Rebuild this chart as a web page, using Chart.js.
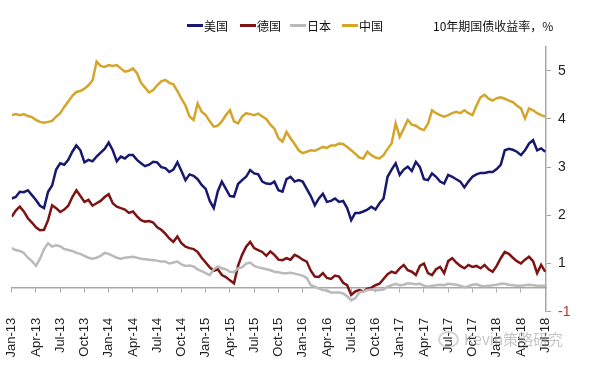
<!DOCTYPE html>
<html>
<head>
<meta charset="utf-8">
<script src="https://cdn.jsdelivr.net/npm/chart.js@4.4.1/dist/chart.umd.min.js"></script>
<style>
  html, body { margin: 0; padding: 0; background: #fff; }
  #wrap { position: relative; width: 600px; height: 381px; background: #fff; overflow: hidden; }
  #c { position: absolute; left: 0; top: 0; }
  .lg { position: absolute; top: 17px; font: 12px "Noto Sans CJK SC", sans-serif; color: #111; line-height: 17px; white-space: nowrap; }
  .lg i { position: absolute; top: 7px; width: 16px; height: 3px; }
  .wm { position: absolute; left: 464px; top: 328px; font: 15px "Noto Sans CJK SC", sans-serif; color: rgba(150,150,150,0.55); white-space: nowrap; }
  .wmi { position: absolute; left: 438px; top: 331px; width: 17px; height: 13px; border: 2px solid rgba(160,160,160,0.45); border-radius: 50%; }
</style>
</head>
<body>
<div id="wrap">
  <canvas id="c" width="600" height="381"></canvas>
  <div id="legend"></div>
  <div class="wmi"></div>
  <div class="wm">Kevin策略研究</div>
</div>
<script>
// ---- data (semi-monthly readings, Jan 2013 .. Jul 2018) ----
const seriesNames = ['美国', '德国', '日本', '中国'];
const chartTitle = '10年期国债收益率，%';

const usYield = [
  1.85,1.88, 1.99,1.98, 2.02,1.92, 1.82,1.70, 1.65,1.99, 2.12,2.45, 2.58,2.55, 2.65,2.82, 2.95,2.85, 2.60,2.65, 2.62,2.72, 2.80,2.88,
  3.01,2.85, 2.62,2.72, 2.68,2.75, 2.75,2.65, 2.58,2.52, 2.55,2.61, 2.60,2.50, 2.48,2.40, 2.45,2.60, 2.42,2.23, 2.35,2.32, 2.25,2.13,
  2.05,1.80, 1.65,2.00, 2.20,2.05, 1.90,1.89, 2.15,2.23, 2.30,2.44, 2.37,2.35, 2.20,2.16, 2.15,2.20, 2.02,1.99, 2.25,2.30, 2.20,2.23,
  2.20,2.05, 1.90,1.71, 1.85,1.95, 1.78,1.80, 1.85,1.78, 1.80,1.65, 1.40,1.55, 1.55,1.58, 1.62,1.68, 1.62,1.75, 1.85,2.30, 2.45,2.58,
  2.34,2.45, 2.51,2.42, 2.61,2.50, 2.25,2.23, 2.37,2.30, 2.20,2.16, 2.34,2.30, 2.25,2.20, 2.08,2.20, 2.30,2.35, 2.38,2.38, 2.40,2.40,
  2.46,2.55, 2.85,2.88, 2.86,2.82, 2.75,2.85, 2.99,3.06, 2.85,2.89, 2.82
];
const deYield = [
  1.47,1.60, 1.68,1.58, 1.44,1.35, 1.25,1.19, 1.20,1.40, 1.71,1.65, 1.57,1.62, 1.70,1.88, 2.02,1.90, 1.78,1.82, 1.70,1.75, 1.80,1.88,
  1.94,1.75, 1.68,1.65, 1.62,1.55, 1.58,1.48, 1.40,1.37, 1.38,1.35, 1.25,1.20, 1.12,1.02, 0.95,1.06, 0.92,0.85, 0.82,0.80, 0.74,0.62,
  0.52,0.42, 0.35,0.38, 0.26,0.22, 0.15,0.09, 0.45,0.68, 0.85,0.95, 0.82,0.78, 0.74,0.66, 0.75,0.68, 0.58,0.57, 0.61,0.58, 0.68,0.64,
  0.58,0.54, 0.35,0.23, 0.22,0.30, 0.20,0.18, 0.25,0.23, 0.10,0.05, -0.15,-0.08, -0.05,-0.08, -0.02,0.00, 0.05,0.08, 0.18,0.28, 0.33,0.30,
  0.40,0.47, 0.36,0.33, 0.26,0.45, 0.50,0.30, 0.26,0.38, 0.43,0.30, 0.55,0.61, 0.52,0.45, 0.40,0.47, 0.43,0.45, 0.40,0.47, 0.38,0.33,
  0.45,0.61, 0.74,0.70, 0.62,0.55, 0.50,0.58, 0.64,0.55, 0.30,0.47, 0.33
];
const jpYield = [
  0.82,0.78, 0.76,0.72, 0.62,0.55, 0.45,0.60, 0.80,0.92, 0.85,0.88, 0.86,0.80, 0.78,0.76, 0.72,0.70, 0.66,0.62, 0.60,0.62, 0.66,0.72,
  0.70,0.66, 0.62,0.60, 0.62,0.63, 0.64,0.62, 0.60,0.59, 0.58,0.57, 0.56,0.54, 0.54,0.50, 0.52,0.54, 0.48,0.45, 0.46,0.44, 0.38,0.34,
  0.30,0.26, 0.38,0.44, 0.40,0.38, 0.33,0.32, 0.40,0.42, 0.50,0.52, 0.45,0.42, 0.40,0.38, 0.36,0.33, 0.32,0.30, 0.30,0.31, 0.29,0.27,
  0.25,0.20, 0.05,0.02, -0.02,-0.05, -0.06,-0.10, -0.10,-0.10, -0.12,-0.18, -0.26,-0.22, -0.10,-0.08, -0.05,-0.04, -0.06,-0.05, -0.04,0.02, 0.05,0.08,
  0.05,0.06, 0.09,0.08, 0.07,0.08, 0.04,0.02, 0.04,0.05, 0.06,0.05, 0.08,0.07, 0.06,0.04, 0.01,0.03, 0.06,0.07, 0.04,0.03, 0.04,0.05,
  0.06,0.08, 0.08,0.06, 0.05,0.04, 0.04,0.05, 0.06,0.05, 0.04,0.04, 0.04
];
const cnYield = [
  3.58,3.60, 3.58,3.60, 3.56,3.54, 3.48,3.44, 3.42,3.44, 3.46,3.55, 3.62,3.75, 3.86,3.98, 4.06,4.08, 4.13,4.20, 4.30,4.69, 4.60,4.58,
  4.62,4.60, 4.62,4.55, 4.48,4.50, 4.55,4.45, 4.25,4.15, 4.05,4.10, 4.20,4.28, 4.31,4.25, 4.22,4.08, 3.92,3.78, 3.55,3.48, 3.82,3.65,
  3.58,3.45, 3.34,3.36, 3.45,3.58, 3.68,3.45, 3.41,3.55, 3.62,3.60, 3.58,3.61, 3.55,3.50, 3.38,3.30, 3.10,3.03, 3.23,3.10, 2.98,2.85,
  2.79,2.82, 2.85,2.84, 2.88,2.92, 2.90,2.95, 2.95,2.99, 2.98,2.92, 2.85,2.78, 2.70,2.68, 2.82,2.75, 2.70,2.68, 2.75,2.88, 2.99,3.41,
  3.13,3.30, 3.48,3.38, 3.36,3.30, 3.27,3.40, 3.68,3.62, 3.58,3.55, 3.58,3.62, 3.65,3.62, 3.68,3.62, 3.58,3.78, 3.95,4.00, 3.92,3.88,
  3.93,3.95, 3.92,3.88, 3.85,3.78, 3.72,3.51, 3.72,3.68, 3.62,3.58, 3.55
];
const xTickLabels = [
  'Jan-13','Apr-13','Jul-13','Oct-13','Jan-14','Apr-14','Jul-14','Oct-14',
  'Jan-15','Apr-15','Jul-15','Oct-15','Jan-16','Apr-16','Jul-16','Oct-16',
  'Jan-17','Apr-17','Jul-17','Oct-17','Jan-18','Apr-18','Jul-18'
];
const yTickLabels = ['-1', '1', '2', '3', '4', '5'];

// ---- styles ----
const colors = ['#18186e', '#7d1414', '#bababa', '#d4a52a'];
const axisGrey = '#a8a8a8';

// x position of reading i = months since Jan 2013 (two readings per month)
const toPoints = arr => arr.map((v, i) => ({ x: i / 2, y: v }));
const allSeries = [usYield, deYield, jpYield, cnYield];

// HTML legend (real text)
const legendPos = [187, 240, 290, 342];
const legendEl = document.getElementById('legend');
seriesNames.forEach((n, k) => {
  const d = document.createElement('div');
  d.className = 'lg';
  d.style.left = legendPos[k] + 'px';
  d.innerHTML = '<i style="left:0;background:' + colors[k] + '"></i><span style="margin-left:17px">' + n + '</span>';
  legendEl.appendChild(d);
});
const t = document.createElement('div');
t.className = 'lg';
t.style.left = '433px';
t.textContent = chartTitle;
legendEl.appendChild(t);

Chart.defaults.font.family = '"Liberation Sans", Arial, sans-serif';

new Chart(document.getElementById('c'), {
  type: 'line',
  data: {
    datasets: allSeries.map((arr, k) => ({
      label: seriesNames[k],
      data: toPoints(arr),
      borderColor: colors[k],
      backgroundColor: colors[k],
      borderWidth: 2.5,
      pointRadius: 0,
      tension: 0,
      xAxisID: 'x',
      yAxisID: 'y',
      order: 4 - k
    }))
  },
  options: {
    responsive: false,
    devicePixelRatio: 1,
    animation: false,
    events: [],
    layout: { padding: { left: 11.7, top: 46.7, right: 0, bottom: 0 } },
    plugins: { legend: { display: false }, tooltip: { enabled: false }, title: { display: false } },
    scales: {
      x: {
        type: 'linear',
        position: 'bottom',
        min: 0, max: 66.1,
        grid: { display: false, drawTicks: false },
        border: { display: false },
        ticks: {
          stepSize: 3, autoSkip: false, includeBounds: false,
          minRotation: 90, maxRotation: 90, padding: 6,
          color: '#222', font: { size: 13 },
          callback: v => (Number.isInteger(v / 3) ? xTickLabels[v / 3] : '')
        },
        afterFit: s => { s.height = 69.3; }
      },
      xz: {
        type: 'linear',
        position: { y: 0 },
        min: 0, max: 66.1,
        grid: { drawOnChartArea: false, drawTicks: true, tickLength: 4, color: axisGrey },
        border: { display: true, color: axisGrey, width: 1.5 },
        ticks: { display: false, stepSize: 3, autoSkip: false, includeBounds: false }
      },
      y: {
        type: 'linear',
        display: false,
        min: -0.5, max: 5
      },
      y2: {
        type: 'linear',
        position: 'right',
        min: 0, max: 5.5,
        grid: { drawOnChartArea: false, drawTicks: true, tickLength: 5, color: axisGrey },
        border: { display: true, color: axisGrey, width: 1.5 },
        ticks: {
          stepSize: 1, includeBounds: false, padding: 7,
          font: { size: 14 },
          color: c => (c.tick && c.tick.value === 0 ? '#c0302b' : '#222'),
          callback: v => yTickLabels[v]
        },
        afterFit: s => { s.width = 54; }
      }
    }
  }
});
</script>
</body>
</html>
